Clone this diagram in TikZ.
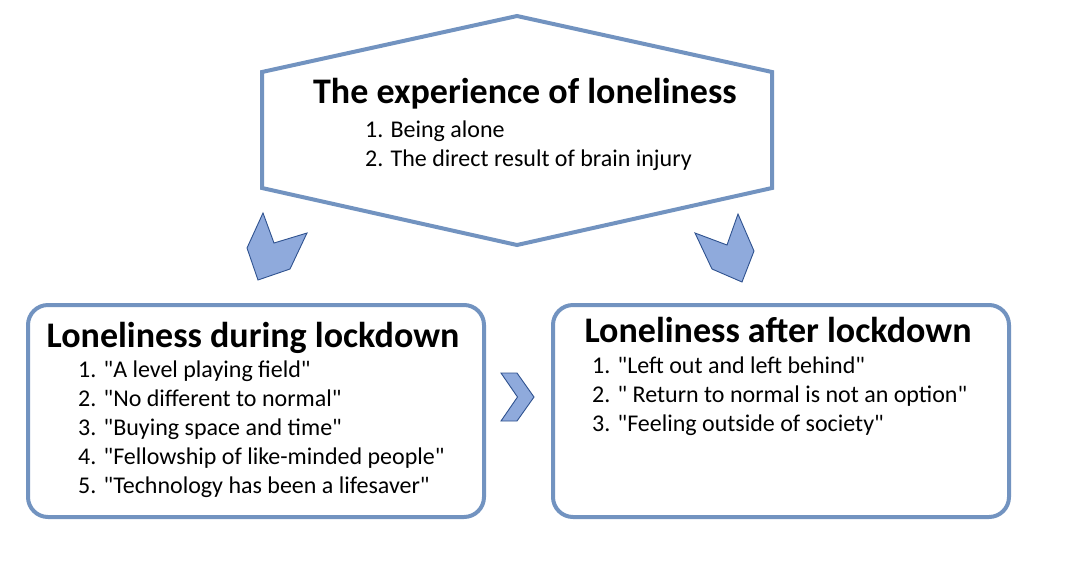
\documentclass[tikz,border=0pt]{standalone}
\usepackage{fontspec}
\setmainfont{Carlito}[Ligatures=TeXOff]
\definecolor{boxblue}{HTML}{7293C0}
\definecolor{chevfill}{HTML}{8FAADC}
\definecolor{chevline}{HTML}{2F528F}
\tikzset{
  outline/.style={draw=boxblue, line width=4pt},
  roundbox/.style={outline, rounded corners=20pt, minimum width=456pt, minimum height=212pt, anchor=north west, inner sep=0pt},
  chev/.style={fill=chevfill, draw=chevline, line width=0.9pt, line join=miter},
  titletext/.style={anchor=base, inner sep=0pt, font=\fontsize{36}{42}\selectfont\bfseries},
  itemtext/.style={anchor=base west, inner sep=0pt, font=\fontsize{24}{29}\selectfont},
}
\begin{document}
\begin{tikzpicture}[x=1pt,y=-1pt]
\useasboundingbox (0,0) rectangle (1090,566);
% hexagon
\coordinate (hT) at (517,16);
\coordinate (hUR) at (772,72);
\coordinate (hLR) at (772,188);
\coordinate (hB) at (517,245);
\coordinate (hLL) at (262,188);
\coordinate (hUL) at (262,72);
\draw[outline, line join=miter] (hT) -- (hUR) -- (hLR) -- (hB) -- (hLL) -- (hUL) -- cycle;
\node[titletext] (toptitle) at (525,103) {The experience of loneliness};
\node[itemtext] (top1) at (365,137) {1. Being alone};
\node[itemtext] (top2) at (365,166) {2. The direct result of brain injury};
% boxes
\node[roundbox] (during) at (26,303) {};
\node[roundbox] (after) at (551,303) {};
\node[titletext] (durtitle) at (253,347) {Loneliness during lockdown};
\node[itemtext] (d1) at (78,377) {1. "A level playing field"};
\node[itemtext] (d2) at (78,406) {2. "No different to normal"};
\node[itemtext] (d3) at (78,435) {3. "Buying space and time"};
\node[itemtext] (d4) at (78,464) {4. "Fellowship of like-minded people"};
\node[itemtext] (d5) at (78,493) {5. "Technology has been a lifesaver"};
\node[titletext] (afttitle) at (778,342) {Loneliness after lockdown};
\node[itemtext] (a1) at (592,373) {1. "Left out and left behind"};
\node[itemtext] (a2) at (592,402) {2. " Return to normal is not an option"};
\node[itemtext] (a3) at (592,431) {3. "Feeling outside of society"};
% chevrons
\draw[chev] (263,213) -- (274,243) -- (307,233) -- (290,269) -- (258,280) -- (247,248) -- cycle;
\draw[chev] (695,233) -- (727,245) -- (738,214) -- (754,251) -- (742,282) -- (712,269) -- cycle;
\draw[chev] (501,373) -- (517,373) -- (534,397) -- (517,421) -- (501,421) -- (517.5,397) -- cycle;
\end{tikzpicture}
\end{document}
